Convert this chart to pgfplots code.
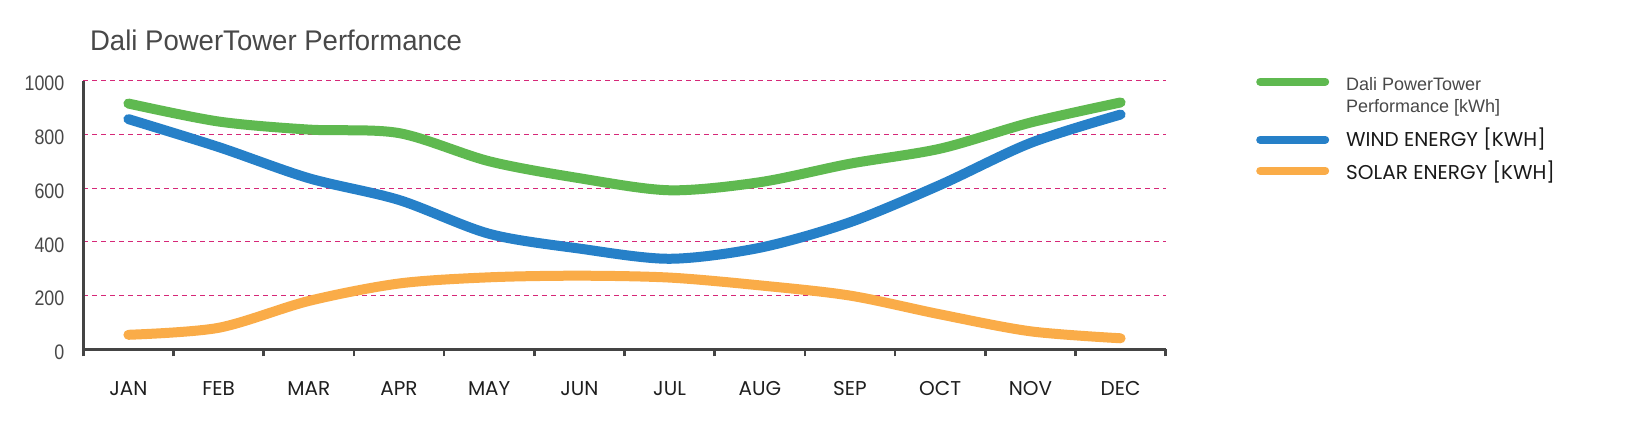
\documentclass[border=0pt]{standalone}
\usepackage{fontspec}
\setmainfont{Liberation Sans}
\newfontfamily\narrowfont[FakeStretch=0.85]{Liberation Sans}
\newfontfamily\titlefont[FakeStretch=0.97]{Liberation Sans}
\newfontfamily\montfont{Poppins}
\usepackage{pgfplots}
\usepackage{pgfplotstable}
\pgfplotsset{compat=1.18}
\definecolor{cgreen}{RGB}{95,185,80}
\definecolor{cblue}{RGB}{38,128,200}
\definecolor{corange}{RGB}{250,172,72}
\definecolor{cgrid}{RGB}{214,40,120}
\definecolor{caxis}{RGB}{68,68,68}
\definecolor{ctext}{RGB}{72,72,72}

\pgfplotstableread{
m green blue orange
0 915 857 54
1 848 753 80
2 818 637 180
3 805 556 245
4 700 430 268
5 637 375 274
6 592 337 267
7 622 378 238
8 691 473 200
9 747 612 130
10 844 768 67
11 919 874 41
}\datatable

\begin{document}
\begin{tikzpicture}
\path[use as bounding box] (0,0) rectangle (819bp,213bp);
\begin{axis}[
  at={(41.65bp,38.35bp)}, anchor=south west,
  scale only axis, width=541.2bp, height=134.3bp,
  xmin=-0.5, xmax=11.5, ymin=0, ymax=1000,
  axis x line*=bottom, axis y line*=left,
  axis line style={caxis, line width=1.5bp},
  xtick={0,...,11},
  xticklabels={JAN,FEB,MAR,APR,MAY,JUN,JUL,AUG,SEP,OCT,NOV,DEC},
  major tick length=0pt,
  major x tick style={draw=none},
  minor xtick={-0.5,0.5,...,11.5},
  minor x tick style={caxis, line width=1.3bp},
  tick align=outside,
  minor tick length=3.5bp,
  ytick={0,200,...,1000},
  major y tick style={draw=none},
  ymajorgrids,
  grid style={cgrid, line width=0.6bp, dash pattern=on 2.5bp off 2bp},
  /pgf/number format/assume math mode=true,
  /pgf/number format/1000 sep={},
  yticklabel style={font=\narrowfont\fontsize{10.5bp}{12bp}\selectfont, text=ctext, anchor=east, inner sep=0pt, xshift=-9.3bp, yshift=-1.5bp},
  xticklabel style={font=\montfont\fontsize{10bp}{12bp}\selectfont, text=black!88, anchor=base, inner sep=0pt, yshift=-22.85bp},
  title={Dali PowerTower Performance},
  title style={at={(0,1)}, anchor=base west, inner sep=0pt, yshift=9.35bp, xshift=3.2bp, font=\titlefont\fontsize{14.2bp}{17bp}\selectfont, text=ctext},
  legend style={at={(1.079,1.0201)}, anchor=north west, draw=none, fill=none,
    inner sep=0pt, outer sep=0pt, row sep=6.75bp, column sep=0pt,
    cells={anchor=base west}, nodes={inner sep=0pt, text depth=0pt}},
  clip=false,
]
\addplot[cgreen, line width=5bp, smooth, tension=0.5, line cap=round,
  legend image code/.code={\draw[cgreen, line width=4bp, line cap=round] (2bp,4.5bp) -- (34.5bp,4.5bp); \path (0bp,0bp) (42.5bp,0bp);}]
  table[x=m,y=green]{\datatable};
\addlegendentry[text depth=13.45bp]{\fontsize{9bp}{11bp}\selectfont\color{ctext}\begin{tabular}[t]{@{}l@{}}Dali PowerTower\\Performance [kWh]\end{tabular}}
\addplot[cblue, line width=5bp, smooth, tension=0.5, line cap=round,
  legend image code/.code={\draw[cblue, line width=4bp, line cap=round] (2bp,3.2bp) -- (34.5bp,3.2bp); \path (0bp,0bp) (42.5bp,0bp);}]
  table[x=m,y=blue]{\datatable};
\addlegendentry{\montfont\fontsize{10bp}{12bp}\selectfont\color{black!90}\raisebox{0pt}[7.5bp][0pt]{WIND ENERGY [KWH]}}
\addplot[corange, line width=5bp, smooth, tension=0.5, line cap=round,
  legend image code/.code={\draw[corange, line width=4bp, line cap=round] (2bp,4.5bp) -- (34.5bp,4.5bp); \path (0bp,0bp) (42.5bp,0bp);}]
  table[x=m,y=orange]{\datatable};
\addlegendentry{\montfont\fontsize{10bp}{12bp}\selectfont\color{black!90}\raisebox{0pt}[7.5bp][0pt]{SOLAR ENERGY [KWH]}}
\end{axis}
\end{tikzpicture}
\end{document}
